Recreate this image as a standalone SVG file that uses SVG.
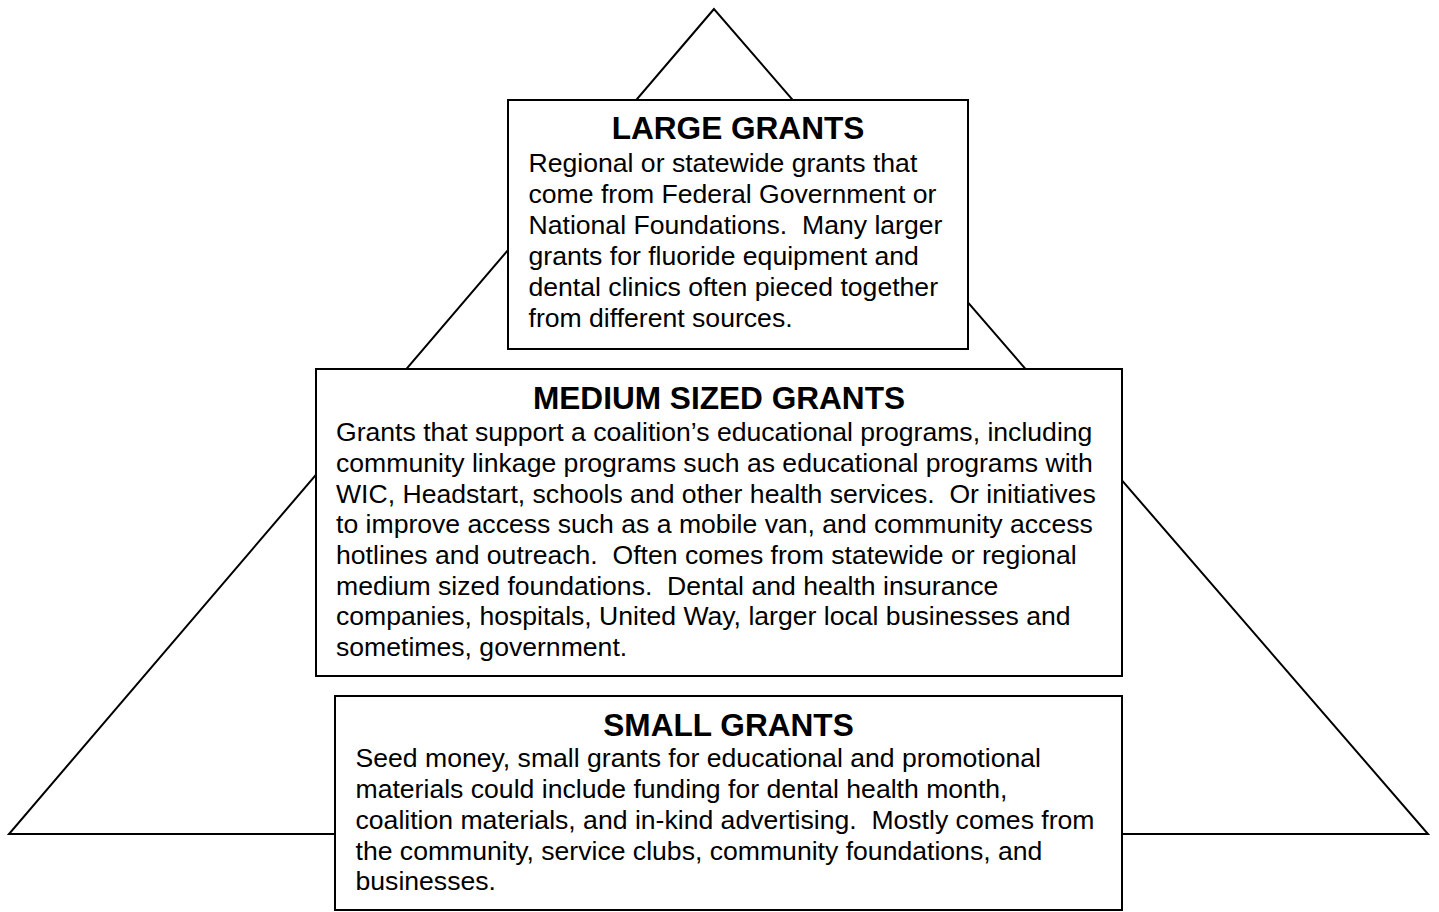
<svg xmlns="http://www.w3.org/2000/svg" width="1439" height="912" viewBox="0 0 1439 912">
<style>
.box{fill:#fff;stroke:#000;stroke-width:2}
.tri{fill:none;stroke:#000;stroke-width:2;stroke-linejoin:miter}
.title{font-family:"Liberation Sans",Arial,sans-serif;font-weight:bold;font-size:31.6px;fill:#000;text-anchor:middle}
.body{font-family:"Liberation Sans",Arial,sans-serif;font-size:26.6px;fill:#000;white-space:pre}
</style>
<rect width="1439" height="912" fill="#fff"/>
<g id="connectors">
<polygon class="tri" points="714,9 9,834 1428,834"/>
</g>
<g id="large">
<rect class="box" x="508" y="100" width="460" height="249"/>
<text class="title" x="738" y="139.3">LARGE GRANTS</text>
<text class="body" x="528.5" y="172" xml:space="preserve"><tspan x="528.5">Regional or statewide grants that</tspan><tspan x="528.5" dy="30.9">come from Federal Government or</tspan><tspan x="528.5" dy="30.9">National Foundations.  Many larger</tspan><tspan x="528.5" dy="30.9">grants for fluoride equipment and</tspan><tspan x="528.5" dy="30.9">dental clinics often pieced together</tspan><tspan x="528.5" dy="30.9">from different sources.</tspan></text>
</g>
<g id="medium">
<rect class="box" x="316" y="369" width="806" height="307"/>
<text class="title" x="719" y="408.7">MEDIUM SIZED GRANTS</text>
<text class="body" x="336" y="441.3" xml:space="preserve"><tspan x="336">Grants that support a coalition’s educational programs, including</tspan><tspan x="336" dy="30.67">community linkage programs such as educational programs with</tspan><tspan x="336" dy="30.67">WIC, Headstart, schools and other health services.  Or initiatives</tspan><tspan x="336" dy="30.67">to improve access such as a mobile van, and community access</tspan><tspan x="336" dy="30.67">hotlines and outreach.  Often comes from statewide or regional</tspan><tspan x="336" dy="30.67">medium sized foundations.  Dental and health insurance</tspan><tspan x="336" dy="30.67">companies, hospitals, United Way, larger local businesses and</tspan><tspan x="336" dy="30.67">sometimes, government.</tspan></text>
</g>
<g id="small">
<rect class="box" x="335" y="696" width="787" height="214"/>
<text class="title" x="728.5" y="736">SMALL GRANTS</text>
<text class="body" x="355.5" y="767.3" xml:space="preserve"><tspan x="355.5">Seed money, small grants for educational and promotional</tspan><tspan x="355.5" dy="30.75">materials could include funding for dental health month,</tspan><tspan x="355.5" dy="30.75">coalition materials, and in-kind advertising.  Mostly comes from</tspan><tspan x="355.5" dy="30.75">the community, service clubs, community foundations, and</tspan><tspan x="355.5" dy="30.75">businesses.</tspan></text>
</g>
</svg>
